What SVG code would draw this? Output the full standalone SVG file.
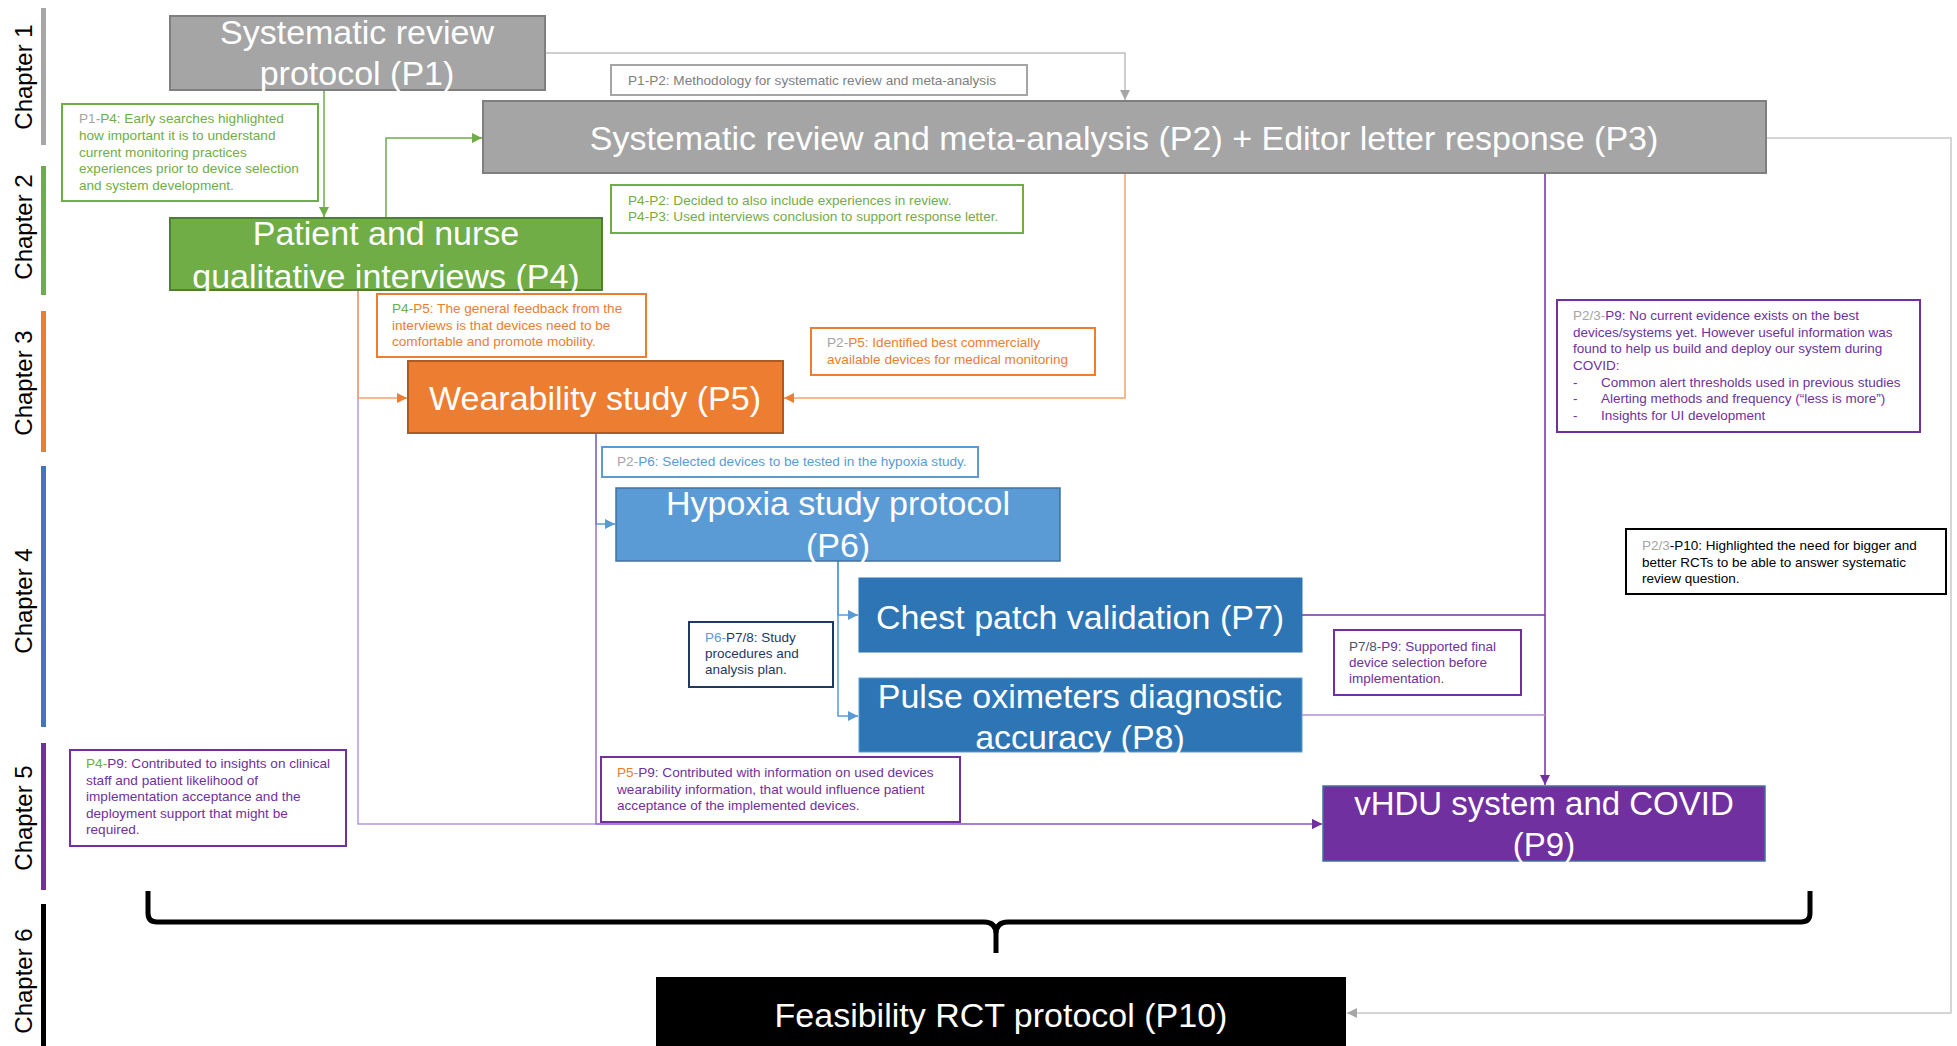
<svg xmlns="http://www.w3.org/2000/svg" width="1957" height="1046" viewBox="0 0 1957 1046">
<style>
.ch{font-family:"Liberation Sans",Arial,sans-serif;font-size:24px;fill:#000}
.t{font-family:"Liberation Sans",Arial,sans-serif;font-size:34px;fill:#fff;text-anchor:middle}
.l{font-family:"Liberation Sans",Arial,sans-serif;font-size:13.6px}
.lb{font-family:"Liberation Sans",Arial,sans-serif;font-size:13.5px}
.lbl{fill:#fff;stroke-width:2}
.c{fill:none;stroke-width:1.5}
.gy{fill:#A5A5A5}.gr{fill:#70AD47}.or{fill:#ED7D31}.pu{fill:#7030A0}.bl{fill:#5B9BD5}.nv{fill:#1F3864}.bk{fill:#000}.dg{fill:#808080}
</style>
<defs>
<marker id="aGray" markerUnits="userSpaceOnUse" markerWidth="12" markerHeight="12" refX="10" refY="5" orient="auto"><path d="M0,0L10,5L0,10z" fill="#A6A6A6"/></marker>
<marker id="aGreen" markerUnits="userSpaceOnUse" markerWidth="12" markerHeight="12" refX="10" refY="5" orient="auto"><path d="M0,0L10,5L0,10z" fill="#70AD47"/></marker>
<marker id="aOrange" markerUnits="userSpaceOnUse" markerWidth="12" markerHeight="12" refX="10" refY="5" orient="auto"><path d="M0,0L10,5L0,10z" fill="#ED7D31"/></marker>
<marker id="aBlue" markerUnits="userSpaceOnUse" markerWidth="12" markerHeight="12" refX="10" refY="5" orient="auto"><path d="M0,0L10,5L0,10z" fill="#5B9BD5"/></marker>
<marker id="aPurple" markerUnits="userSpaceOnUse" markerWidth="12" markerHeight="12" refX="10" refY="5" orient="auto"><path d="M0,0L10,5L0,10z" fill="#7030A0"/></marker>
</defs>
<rect width="1957" height="1046" fill="#fff"/>

<g id="chapters">
<rect x="41" y="8" width="5" height="137" fill="#A6A6A6"/>
<rect x="41" y="166" width="5" height="129" fill="#70AD47"/>
<rect x="41" y="311" width="5" height="141" fill="#ED7D31"/>
<rect x="41" y="466" width="5" height="261" fill="#4472C4"/>
<rect x="41" y="743" width="5" height="147" fill="#7030A0"/>
<rect x="41" y="904" width="5" height="142" fill="#000"/>
<text class="ch" transform="translate(32,77) rotate(-90)" text-anchor="middle">Chapter 1</text>
<text class="ch" transform="translate(32,227) rotate(-90)" text-anchor="middle">Chapter 2</text>
<text class="ch" transform="translate(32,383) rotate(-90)" text-anchor="middle">Chapter 3</text>
<text class="ch" transform="translate(32,601) rotate(-90)" text-anchor="middle">Chapter 4</text>
<text class="ch" transform="translate(32,818) rotate(-90)" text-anchor="middle">Chapter 5</text>
<text class="ch" transform="translate(32,981) rotate(-90)" text-anchor="middle">Chapter 6</text>
</g>

<g id="connectors">
<path class="c" d="M545,53H1125V100" stroke="#BFBFBF" stroke-width="2" marker-end="url(#aGray)"/>
<path class="c" d="M324,90V217" stroke="#70AD47" marker-end="url(#aGreen)"/>
<path class="c" d="M386,218V138H482" stroke="#70AD47" marker-end="url(#aGreen)"/>
<path class="c" d="M358,290V824H1322" stroke="#B49BDA" marker-end="url(#aPurple)"/>
<path class="c" d="M358,290V398H407" stroke="#F4A46C" marker-end="url(#aOrange)"/>
<path class="c" d="M1125,173V398H784" stroke="#F4A46C" marker-end="url(#aOrange)"/>
<path class="c" d="M596,433V524H615" stroke="#5B9BD5" marker-end="url(#aBlue)"/>
<path class="c" d="M596,433V824H1322" stroke="#9A70C8" marker-end="url(#aPurple)"/>
<path class="c" d="M838,561V615H858" stroke="#5B9BD5" marker-end="url(#aBlue)"/>
<path class="c" d="M838,561V716H858" stroke="#5B9BD5" marker-end="url(#aBlue)"/>
<path class="c" d="M1545,173V785" stroke="#7030A0" marker-end="url(#aPurple)"/>
<path class="c" d="M1302,615H1545" stroke="#7030A0"/>
<path class="c" d="M1302,715H1545" stroke="#B08FD8"/>
<path class="c" d="M1766,138H1951V1013H1347" stroke="#C8C8C8" stroke-width="2" marker-end="url(#aGray)"/>
<path d="M148,891V913Q148,922 157,922H984Q996,922 996,934V953M996,934Q996,922 1008,922H1801Q1810,922 1810,913V891" fill="none" stroke="#000" stroke-width="5" stroke-linejoin="round"/>
</g>

<g id="P1">
<rect x="170" y="16" width="375" height="74" fill="#A5A5A5" stroke="#7F7F7F" stroke-width="2"/>
<text class="t" x="357" y="44">Systematic review</text>
<text class="t" x="357" y="85">protocol (P1)</text>
</g>
<g id="P2P3">
<rect x="483" y="101" width="1283" height="72" fill="#A5A5A5" stroke="#7F7F7F" stroke-width="2"/>
<text class="t" x="1124" y="150">Systematic review and meta-analysis (P2) + Editor letter response (P3)</text>
</g>
<g id="P4">
<rect x="170" y="218" width="432" height="72" fill="#70AD47" stroke="#507E32" stroke-width="2"/>
<text class="t" x="386" y="245">Patient and nurse</text>
<text class="t" x="386" y="288">qualitative interviews (P4)</text>
</g>
<g id="P5">
<rect x="408" y="361" width="375" height="72" fill="#ED7D31" stroke="#AE5A21" stroke-width="2"/>
<text class="t" x="595" y="410">Wearability study (P5)</text>
</g>
<g id="P6">
<rect x="616" y="488" width="444" height="73" fill="#5B9BD5" stroke="#41719C" stroke-width="1.5"/>
<text class="t" x="838" y="515">Hypoxia study protocol</text>
<text class="t" x="838" y="557">(P6)</text>
</g>
<g id="P7">
<rect x="859" y="578" width="443" height="74" fill="#2E75B6" stroke="#2E75B6" stroke-width="1"/>
<text class="t" x="1080" y="629">Chest patch validation (P7)</text>
</g>
<g id="P8">
<rect x="859" y="678" width="443" height="74" fill="#2E75B6" stroke="#5B9BD5" stroke-width="1"/>
<text class="t" x="1080" y="708">Pulse oximeters diagnostic</text>
<text class="t" x="1080" y="749">accuracy (P8)</text>
</g>
<g id="P9">
<rect x="1323" y="786" width="442" height="75" fill="#7030A0" stroke="#41719C" stroke-width="1.5"/>
<text class="t" x="1544" y="815" style="font-size:33px">vHDU system and COVID</text>
<text class="t" x="1544" y="856" style="font-size:33px">(P9)</text>
</g>
<g id="P10">
<rect x="656" y="977" width="690" height="69" fill="#000"/>
<text class="t" x="1001" y="1027">Feasibility RCT protocol (P10)</text>
</g>

<g id="lbl-P1-P2">
<rect class="lbl" x="611" y="65" width="416" height="30" stroke="#A5A5A5"/>
<text class="l dg" x="628" y="85">P1-P2: Methodology for systematic review and meta-analysis</text>
</g>
<g id="lbl-P1-P4">
<rect class="lbl" x="62" y="104" width="256" height="97" stroke="#70AD47"/>
<text class="l gr" x="79" y="123"><tspan class="gy">P1-</tspan>P4: Early searches highlighted</text>
<text class="l gr" x="79" y="140">how important it is to understand</text>
<text class="l gr" x="79" y="157">current monitoring practices</text>
<text class="l gr" x="79" y="173">experiences prior to device selection</text>
<text class="l gr" x="79" y="190">and system development.</text>
</g>
<g id="lbl-P4-P2">
<rect class="lbl" x="611" y="185" width="412" height="48" stroke="#70AD47"/>
<text class="l gr" x="628" y="205">P4-P2: Decided to also include experiences in review.</text>
<text class="l gr" x="628" y="221">P4-P3: Used interviews conclusion to support response letter.</text>
</g>
<g id="lbl-P4-P5">
<rect class="lbl" x="377" y="294" width="269" height="63" stroke="#ED7D31"/>
<text class="l or" x="392" y="313"><tspan class="gr">P4-</tspan>P5: The general feedback from the</text>
<text class="l or" x="392" y="330">interviews is that devices need to be</text>
<text class="l or" x="392" y="346">comfortable and promote mobility.</text>
</g>
<g id="lbl-P2-P5">
<rect class="lbl" x="811" y="328" width="284" height="47" stroke="#ED7D31"/>
<text class="l or" x="827" y="347"><tspan class="gy">P2-</tspan>P5: Identified best commercially</text>
<text class="l or" x="827" y="364">available devices for medical monitoring</text>
</g>
<g id="lbl-P23-P9">
<rect class="lbl" x="1557" y="300" width="363" height="132" stroke="#7030A0"/>
<text class="lb pu" x="1573" y="320"><tspan class="gy">P2/3-</tspan>P9: No current evidence exists on the best</text>
<text class="lb pu" x="1573" y="337">devices/systems yet. However useful information was</text>
<text class="lb pu" x="1573" y="353">found to help us build and deploy our system during</text>
<text class="lb pu" x="1573" y="370">COVID:</text>
<text class="lb pu" x="1573" y="387">-</text><text class="lb pu" x="1601" y="387">Common alert thresholds used in previous studies</text>
<text class="lb pu" x="1573" y="403">-</text><text class="lb pu" x="1601" y="403">Alerting methods and frequency (“less is more”)</text>
<text class="lb pu" x="1573" y="420">-</text><text class="lb pu" x="1601" y="420">Insights for UI development</text>
</g>
<g id="lbl-P2-P6">
<rect class="lbl" x="602" y="447" width="376" height="30" stroke="#5B9BD5"/>
<text class="l bl" x="617" y="466"><tspan class="gy">P2-</tspan>P6: Selected devices to be tested in the hypoxia study.</text>
</g>
<g id="lbl-P23-P10">
<rect class="lbl" x="1626" y="529" width="320" height="65" stroke="#000"/>
<text class="lb bk" x="1642" y="550"><tspan class="gy">P2/3</tspan>-P10: Highlighted the need for bigger and</text>
<text class="lb bk" x="1642" y="567">better RCTs to be able to answer systematic</text>
<text class="lb bk" x="1642" y="583">review question.</text>
</g>
<g id="lbl-P6-P78">
<rect class="lbl" x="689" y="622" width="144" height="65" stroke="#1F3864"/>
<text class="lb nv" x="705" y="642"><tspan class="bl">P6-</tspan>P7/8: Study</text>
<text class="lb nv" x="705" y="658">procedures and</text>
<text class="lb nv" x="705" y="674">analysis plan.</text>
</g>
<g id="lbl-P78-P9">
<rect class="lbl" x="1334" y="630" width="187" height="65" stroke="#7030A0"/>
<text class="lb pu" x="1349" y="651"><tspan style="fill:#44546A">P7/8-</tspan>P9: Supported final</text>
<text class="lb pu" x="1349" y="667">device selection before</text>
<text class="lb pu" x="1349" y="683">implementation.</text>
</g>
<g id="lbl-P4-P9">
<rect class="lbl" x="70" y="750" width="276" height="96" stroke="#7030A0"/>
<text class="l pu" x="86" y="768"><tspan class="gr">P4-</tspan>P9: Contributed to insights on clinical</text>
<text class="l pu" x="86" y="785">staff and patient likelihood of</text>
<text class="l pu" x="86" y="801">implementation acceptance and the</text>
<text class="l pu" x="86" y="818">deployment support that might be</text>
<text class="l pu" x="86" y="834">required.</text>
</g>
<g id="lbl-P5-P9">
<rect class="lbl" x="601" y="757" width="359" height="65" stroke="#7030A0"/>
<text class="l pu" x="617" y="777"><tspan class="or">P5-</tspan>P9: Contributed with information on used devices</text>
<text class="l pu" x="617" y="794">wearability information, that would influence patient</text>
<text class="l pu" x="617" y="810">acceptance of the implemented devices.</text>
</g>
</svg>
